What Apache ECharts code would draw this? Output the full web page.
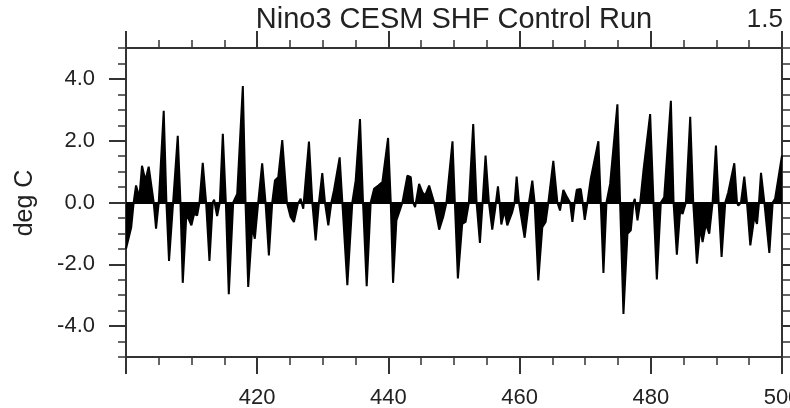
<!DOCTYPE html>
<html>
<head>
<meta charset="utf-8">
<script src="https://cdn.jsdelivr.net/npm/echarts@6/dist/echarts.min.js"></script>
<style>
  html, body { margin: 0; padding: 0; background: #fff; }
  #chart { width: 790px; height: 408px; }
</style>
</head>
<body>
<div id="chart"></div>
<script>
// model year (fractional) and Nino3 SST anomaly (deg C)
const years = [
  400.0, 400.15, 400.8, 401.17, 401.53, 402.04, 402.44, 402.95, 403.46, 404.22,
  404.58, 404.99, 405.75, 406.16, 406.56, 407.18, 407.89, 408.3, 408.65, 409.21,
  409.97, 410.38, 410.84, 411.2, 411.7, 412.21, 412.72, 413.23, 413.43, 413.89,
  414.3, 414.76, 415.22, 415.67, 416.34, 416.95, 417.81, 418.22, 418.63, 419.24,
  419.64, 420.15, 420.76, 421.27, 421.78, 422.29, 422.7, 423.21, 423.82, 424.53,
  425.09, 425.6, 426.21, 426.62, 427.02, 427.38, 427.89, 428.4, 428.91, 429.41,
  429.92, 430.33, 430.84, 431.3, 431.7, 432.57, 432.98, 433.74, 434.5, 435.01,
  435.67, 436.13, 436.69, 437.3, 437.81, 438.47, 439.08, 439.95, 440.36, 440.71,
  441.22, 441.73, 442.14, 442.9, 443.41, 443.77, 444.07, 444.68, 445.19, 445.6,
  446.21, 446.97, 447.74, 448.35, 448.85, 449.77, 450.13, 450.59, 451.25, 451.76,
  452.27, 452.93, 453.44, 453.95, 454.36, 454.81, 455.32, 455.83, 456.24, 456.7,
  456.95, 457.21, 457.71, 458.12, 458.88, 459.24, 459.55, 459.9, 460.77, 461.43,
  461.94, 462.29, 462.85, 463.46, 463.97, 464.38, 465.14, 465.76, 466.16, 466.67,
  467.28, 467.69, 468.05, 468.4, 468.71, 469.32, 469.62, 469.93, 470.34, 470.84,
  472.01, 472.37, 472.78, 473.24, 473.8, 474.91, 475.32, 475.83, 476.44, 476.95,
  477.36, 477.56, 477.97, 478.38, 478.88, 479.9, 480.41, 480.92, 481.53, 482.04,
  483.06, 483.47, 483.97, 484.48, 484.84, 485.35, 486.01, 486.47, 487.03, 487.54,
  487.89, 488.4, 488.91, 489.42, 489.93, 490.34, 490.79, 491.35, 491.81, 492.73,
  493.14, 493.34, 493.75, 494.25, 494.66, 495.17, 495.78, 496.19, 496.49, 496.8,
  497.31, 498.07, 498.58, 498.94, 500.0
]
const anomaly = [
  -1.5, -1.55, -0.8, 0, 0.55, 0.17, 1.19, 0.71, 1.16, 0,
  -0.85, 0, 2.97, 0, -1.89, 0, 2.16, 0, -2.6, -0.37,
  -0.74, -0.37, -0.42, 0, 1.28, 0, -1.89, 0, 0.09, -0.44,
  0, 2.22, 0, -2.97, 0, 0.28, 3.77, 0, -2.73, -0.8,
  -1.17, 0, 1.27, 0, -1.71, 0, 0.71, 0.82, 2.02, 0,
  -0.47, -0.63, -0.04, 0.12, -0.2, 0.71, 1.97, 0, -1.23, 0,
  0.95, 0, -0.74, 0, 0.39, 1.46, 0, -2.68, 0, 0.71,
  2.7, 0, -2.71, 0, 0.44, 0.55, 0.66, 2.09, 0, -2.6,
  -0.58, -0.26, 0, 0.87, 0.82, 0, -0.15, 0.6, 0.33, 0.23,
  0.55, 0, -0.88, -0.47, 0, 1.98, 0, -2.46, -0.69, -0.63,
  0, 2.54, 0, -1.31, 0, 1.52, 0, -0.88, -0.26, 0.52,
  0, -0.71, -0.26, -0.74, -0.31, 0, 0.84, 0, -1.14, 0,
  0.71, 0, -2.52, -0.8, -0.63, 0, 1.35, 0, -0.26, 0.41,
  0.15, 0, -0.63, 0, 0.41, 0.44, 0, -0.56, 0, 0.76,
  1.98, 0, -2.28, 0, 0.6, 3.18, 0, -3.61, -1.01, -0.9,
  0, 0.12, -0.58, 0, 1.03, 2.86, 0, -2.49, 0, 0.17,
  3.29, 0, -1.69, -0.26, -0.37, 0, 2.77, 0, -1.98, -0.8,
  -1.28, -0.69, -1.01, 0, 1.84, 0, -1.76, 0, 0.33, 1.27,
  0, -0.1, 0, 0.84, 0, -1.39, -0.47, -0.69, 0, 0.96,
  0, -1.63, 0, 0.12, 1.52
]
const xLabelValues = [420, 440, 460, 480, 500]
const yTickValues = [-4, -2, 0, 2, 4]
const titleText = 'Nino3 CESM SHF Control Run'
const cornerText = '1.5'

const fontFamily = "'Liberation Sans', Arial, Helvetica, sans-serif"
const axisColor = '#333'

const chart = echarts.init(document.getElementById('chart'))

const xBase = {
  type: 'value',
  min: 400,
  max: 500,
  interval: 20,
  axisLine: { show: true, onZero: false, lineStyle: { color: axisColor, width: 2 } },
  axisTick: { show: true, length: 17, lineStyle: { color: axisColor, width: 2 } },
  minorTick: { show: true, splitNumber: 4, length: 8, lineStyle: { color: axisColor, width: 1.5 } },
  splitLine: { show: false },
}

// minor ticks every 0.5
const yMinor = {
  type: 'value',
  min: -5,
  max: 5,
  interval: 0.5,
  axisLine: { show: true, onZero: false, lineStyle: { color: axisColor, width: 2 } },
  axisTick: { show: true, length: 8, lineStyle: { color: axisColor, width: 1.5 } },
  axisLabel: { show: false },
  splitLine: { show: false },
}
// major ticks + labels at the even values
const yMajor = {
  type: 'value',
  min: -5,
  max: 5,
  axisLine: { show: true, onZero: false, lineStyle: { color: axisColor, width: 2 } },
  axisTick: { show: true, length: 17, customValues: yTickValues, lineStyle: { color: axisColor, width: 2 } },
  splitLine: { show: false },
}

const option = {
  animation: false,
  grid: { left: 126, right: 8, top: 48, bottom: 51, containLabel: false, outerBoundsMode: 'none' },
  xAxis: [
    Object.assign({}, xBase, {
      position: 'bottom',
      axisLabel: { customValues: xLabelValues, color: '#222', fontSize: 22, fontFamily, margin: 30 },
    }),
    Object.assign({}, xBase, { position: 'top', axisLabel: { show: false } }),
  ],
  yAxis: [
    Object.assign({}, yMinor, { position: 'left' }),
    Object.assign({}, yMajor, {
      position: 'left',
      axisLabel: {
        show: true,
        customValues: yTickValues,
        color: '#222',
        fontSize: 22,
        fontFamily,
        margin: 31,
        formatter: v => v.toFixed(1),
      },
    }),
    Object.assign({}, yMinor, { position: 'right' }),
    Object.assign({}, yMajor, { position: 'right', axisLabel: { show: false } }),
  ],
  graphic: [
    {
      type: 'text',
      x: 454,
      y: 5,
      style: { text: titleText, fill: '#222', font: `29px ${fontFamily}`, textAlign: 'center' },
    },
    {
      type: 'text',
      x: 783,
      y: 7,
      style: { text: cornerText, fill: '#222', font: `26px ${fontFamily}`, textAlign: 'right' },
    },
    {
      type: 'text',
      x: 25,
      y: 203,
      rotation: Math.PI / 2,
      style: {
        text: 'deg C',
        fill: '#222',
        font: `25px ${fontFamily}`,
        textAlign: 'center',
        textVerticalAlign: 'middle',
      },
    },
  ],
  series: [
    {
      name: 'Nino3',
      type: 'line',
      xAxisIndex: 0,
      yAxisIndex: 0,
      data: years.map((y, i) => [y, anomaly[i]]),
      showSymbol: false,
      symbol: 'none',
      lineStyle: { color: '#000', width: 2 },
      areaStyle: { color: '#000', opacity: 1, origin: 0 },
      markLine: {
        silent: true,
        symbol: 'none',
        label: { show: false },
        lineStyle: { color: '#000', width: 2, type: 'solid' },
        data: [{ yAxis: 0 }],
      },
    },
  ],
}

chart.setOption(option)
</script>
</body>
</html>
